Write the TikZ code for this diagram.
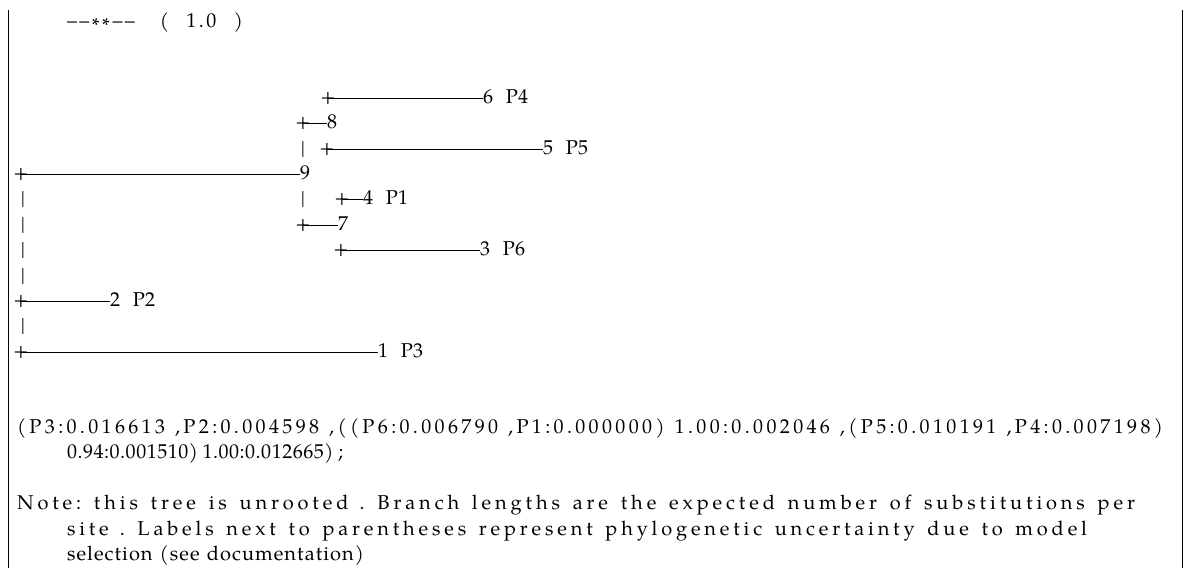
\documentclass[tikz,border=0pt]{standalone}
\usepackage{fontspec}
\setmainfont{texgyrepagella-regular.otf}
\usetikzlibrary{positioning}

% spread the characters of a line over a given width
\def\spreadchars#1{\ifx#1\relax\else#1\hskip 0pt plus 1fil\relax\expandafter\spreadchars\fi}
\newcommand\spreadbox[2]{\makebox[#1pt][s]{\spreadchars#2\relax\unskip}}
\newcommand\treefont{\fontsize{20}{25.4}\selectfont}
\newcommand\lowast{\raisebox{-0.25em}{*}}

\tikzset{
  txt/.style={anchor=base west, inner sep=0pt, outer sep=0pt, font=\treefont},
  plus/.style={anchor=base, inner sep=0pt, outer sep=0pt, font=\treefont},
  branch/.style={line width=0.9pt},
  frameline/.style={line width=1pt}
}

\begin{document}
\begin{tikzpicture}[x=1pt,y=-1pt]
\useasboundingbox (0,0) rectangle (1187,568);
\fill[white] (0,0) rectangle (1187,568);

\draw[frameline] (8,10) -- (8,568);
\draw[frameline] (1182,10) -- (1182,568);

\node[txt] (hdr) at (67,27) {\spreadbox{176}{\textendash\textendash\lowast\lowast\textendash\textendash~~~(~~1.0~~)}};

% tree
\node[plus] (p3) at (328,103.2) {+};
\node[txt] (n6) at (483,103.2) {6\hspace{0.65em}P4};
\node[plus] (p4) at (303,128.6) {+};
\node[txt] (n8) at (327,128.6) {8};
\node[plus] (b5) at (303,154) {|};
\node[plus] (p5) at (327,154) {+};
\node[txt] (n5) at (543,154) {5\hspace{0.65em}P5};
\node[plus] (p6) at (21,179.4) {+};
\node[txt] (n9) at (300,179.4) {9};
\node[plus] (b7) at (303,204.8) {|};
\node[plus] (p7) at (342,204.8) {+};
\node[txt] (n4) at (363,204.8) {4\hspace{0.65em}P1};
\node[plus] (p8) at (303,230.2) {+};
\node[txt] (n7) at (338,230.2) {7};
\node[plus] (p9) at (341,255.6) {+};
\node[txt] (n3) at (480,255.6) {3\hspace{0.65em}P6};
\node[plus] (p11) at (21,306.4) {+};
\node[txt] (n2) at (110,306.4) {2\hspace{0.65em}P2};
\node[plus] (p13) at (21,357.2) {+};
\node[txt] (n1) at (378,357.2) {1\hspace{0.65em}P3};
\foreach \y in {204.8,230.2,255.6,281,331.8}
  \node[plus] at (23,\y) {|};

\draw[branch] (p3.center) -- (p3.center -| n6.west);
\draw[branch] (p4.center) -- (p4.center -| n8.west);
\draw[branch] (p5.center) -- (p5.center -| n5.west);
\draw[branch] (p6.center) -- (p6.center -| n9.west);
\draw[branch] (p7.center) -- (p7.center -| n4.west);
\draw[branch] (p8.center) -- (p8.center -| n7.west);
\draw[branch] (p9.center) -- (p9.center -| n3.west);
\draw[branch] (p11.center) -- (p11.center -| n2.west);
\draw[branch] (p13.center) -- (p13.center -| n1.west);

% newick string and note
\node[txt] (nwk1) at (17,433.4) {\spreadbox{1146}{(P3:0.016613\,,P2:0.004598\,,((P6:0.006790\,,P1:0.000000)\,1.00:0.002046\,,(P5:0.010191\,,P4:0.007198)}};
\node[txt] (nwk2) at (67,458.8) {\spreadbox{276}{0.94:0.001510)\,1.00:0.012665)\,;}};
\node[txt] (note1) at (17,509.6) {\spreadbox{1118}{Note:~this~tree~is~unrooted\,.~Branch~lengths~are~the~expected~number~of~substitutions~per}};
\node[txt] (note2) at (67,535) {\spreadbox{1020}{site\,.~Labels~next~to~parentheses~represent~phylogenetic~uncertainty~due~to~model}};
\node[txt] (note3) at (67,560.4) {\spreadbox{297}{selection~(see~documentation)}};
\end{tikzpicture}
\end{document}
